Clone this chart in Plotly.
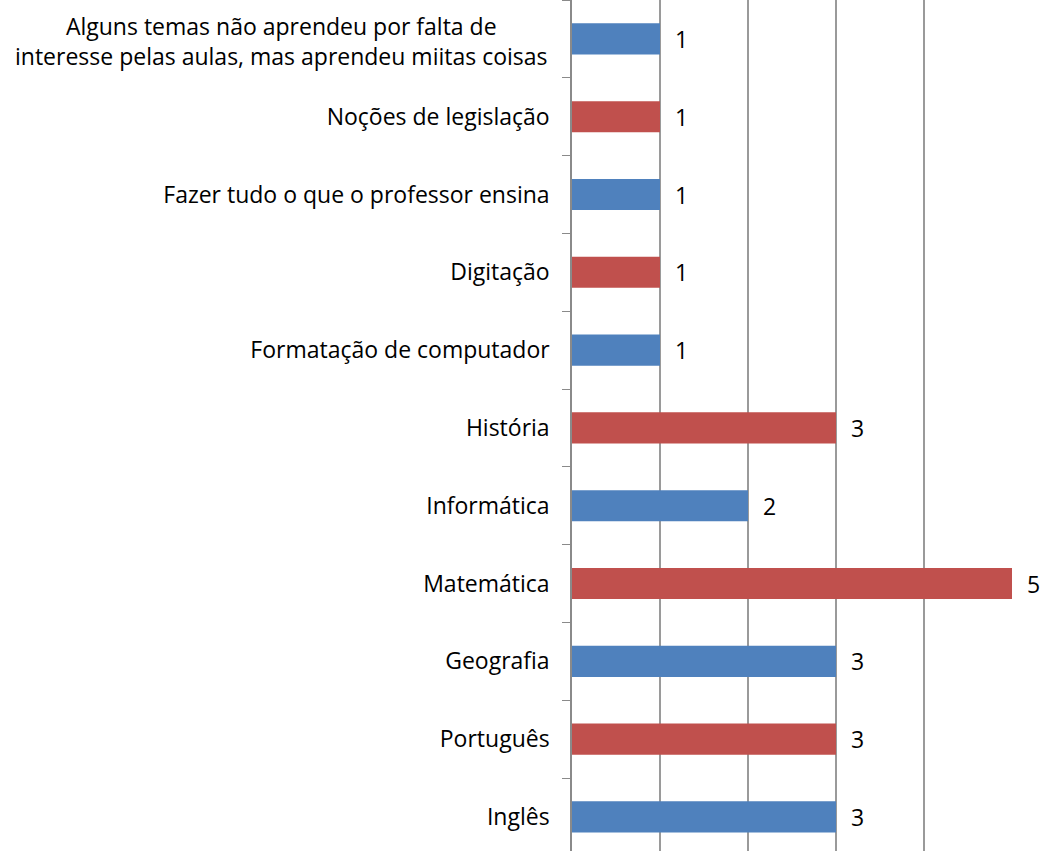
import plotly.graph_objects as go

# categories listed bottom to top, as drawn
categories = [
    "Inglês",
    "Português",
    "Geografia",
    "Matemática",
    "Informática",
    "História",
    "Formatação de computador",
    "Digitação",
    "Fazer tudo o que o professor ensina",
    "Noções de legislação",
    "Alguns temas não aprendeu por falta de<br>interesse pelas aulas, mas aprendeu miitas coisas",
]
values = [3, 3, 3, 5, 2, 3, 1, 1, 1, 1, 1]

blue = "#4F81BD"
red = "#C0504D"
fontFamily = "Open Sans"
fontSize = 23

barColors = [blue if i % 2 == 0 else red for i in range(len(categories))]
# the long label is drawn as a centered annotation, so leave its tick text blank
tickText = [c if "<br>" not in c else "" for c in categories]

fig = go.Figure()
fig.add_trace(go.Bar(
    x = values, y = categories, orientation = "h",
    marker = dict(color = barColors, line = dict(width = 0)),
    width = 0.4, hoverinfo = "skip",
    text = values, texttemplate = "\u00a0\u00a0%{x}", textposition = "outside",
    cliponaxis = False, constraintext = "none",
    outsidetextfont = dict(family = fontFamily, size = fontSize, color = "black"),
))

longLabel = [c for c in categories if "<br>" in c][0]
fig.add_annotation(x = 0, y = longLabel, xref = "x", text = longLabel, showarrow = False,
                   xanchor = "right", xshift = -22, yshift = -2, align = "center",
                   font = dict(family = fontFamily, size = fontSize, color = "black"))

fig.update_layout(
    width = 1045, height = 851,
    margin = dict(l = 572, r = 33, t = 0, b = 0),
    plot_bgcolor = "white", paper_bgcolor = "white",
    showlegend = False,
    font = dict(family = fontFamily, size = fontSize, color = "black"),
)
fig.update_xaxes(range = [0, 5], showgrid = True, gridcolor = "#9A9A9A", gridwidth = 1.5,
                 dtick = 1, showticklabels = False, zeroline = False, showline = False, ticks = "")
fig.update_yaxes(type = "category", categoryorder = "array", categoryarray = categories,
                 tickmode = "array", tickvals = categories, ticktext = tickText,
                 range = [-0.438, 10.5], tickson = "boundaries", ticks = "outside", ticklen = 8,
                 tickcolor = "#8A8A8A", showline = True, linecolor = "#8A8A8A", linewidth = 1.5,
                 showgrid = False, ticklabelstandoff = 16)

fig.write_html("out.html", config = {"displayModeBar": False},
               post_script = "document.body.style.margin = '0';")
